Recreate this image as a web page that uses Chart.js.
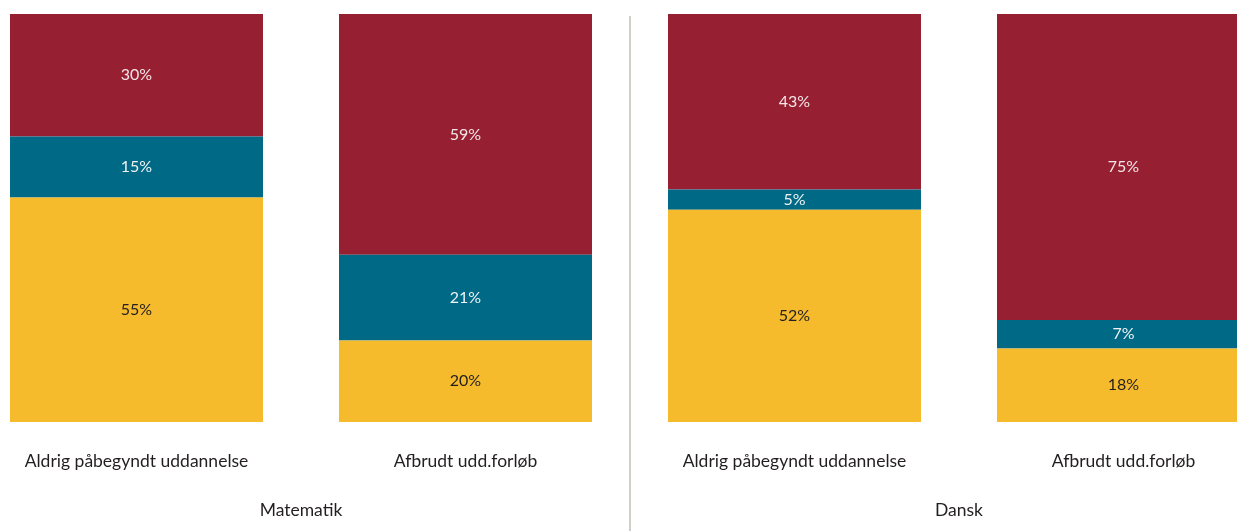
<!DOCTYPE html>
<html>
<head>
    <meta charset="utf-8">
    <title>Matematik og Dansk</title>
    <script src="https://cdn.jsdelivr.net/npm/chart.js"></script>
    <style>
        html, body { margin: 0; padding: 0; overflow: hidden; background: #fff; }
        #wrap { position: absolute; left: -28px; top: 0; width: 1316px; height: 531px; }
    </style>
</head>
<body>
    <div id="wrap"><canvas id="myChart"></canvas></div>
    <script>
        var categories = ['Aldrig påbegyndt uddannelse', 'Afbrudt udd.forløb', 'Aldrig påbegyndt uddannelse', 'Afbrudt udd.forløb'];
        var groups = ['Matematik', 'Dansk'];
        var yellowValues = [55, 20, 52, 18];
        var tealValues = [15, 21, 5, 7];
        var redValues = [30, 59, 43, 75];

        var FONT = 'Lato, "Open Sans", sans-serif';

        // values written inside each bar segment
        var segmentLabels = {
            id: 'segmentLabels',
            afterDatasetsDraw: function(chart) {
                var ctx = chart.ctx;
                ctx.save();
                ctx.font = '16px ' + FONT;
                ctx.textAlign = 'center';
                ctx.textBaseline = 'middle';
                chart.data.datasets.forEach(function(ds, i) {
                    chart.getDatasetMeta(i).data.forEach(function(bar, j) {
                        var mid = (bar.y + bar.base) / 2;
                        ctx.fillStyle = ds.labelColor;
                        ctx.fillText(ds.data[j] + '%', bar.x, mid);
                    });
                });
                ctx.restore();
            }
        };

        // grey line between the two subjects
        var divider = {
            id: 'divider',
            afterDraw: function(chart) {
                var x = chart.scales.x;
                var mid = (x.getPixelForValue(1) + x.getPixelForValue(2)) / 2;
                var ctx = chart.ctx;
                ctx.save();
                ctx.strokeStyle = '#cfcfc8';
                ctx.lineWidth = 2;
                ctx.beginPath();
                ctx.moveTo(mid, 16);
                ctx.lineTo(mid, chart.height);
                ctx.stroke();
                ctx.restore();
            }
        };

        var ctx = document.getElementById('myChart').getContext('2d');
        var myChart = new Chart(ctx, {
            type: 'bar',
            data: {
                labels: categories,
                datasets: [
                    { label: 'Gul', data: yellowValues, backgroundColor: '#f5bb2d', labelColor: '#231f20' },
                    { label: 'Blå', data: tealValues, backgroundColor: '#006985', labelColor: '#eef2f4' },
                    { label: 'Rød', data: redValues, backgroundColor: '#971f32', labelColor: '#f3e6e8' }
                ]
            },
            options: {
                responsive: true,
                maintainAspectRatio: false,
                animation: false,
                categoryPercentage: 1,
                barPercentage: 0.769,
                layout: { padding: { top: 14, bottom: 10 } },
                plugins: {
                    legend: { display: false },
                    tooltip: { enabled: false }
                },
                scales: {
                    x: {
                        stacked: true,
                        grid: { display: false, drawTicks: false },
                        border: { display: false },
                        ticks: { padding: 28.5, color: '#231f20', font: { family: FONT, size: 17.5 } }
                    },
                    x2: {
                        type: 'category',
                        position: 'bottom',
                        labels: groups,
                        grid: { display: false, drawTicks: false },
                        border: { display: false },
                        ticks: { padding: 0, color: '#231f20', font: { family: FONT, size: 17.5 } }
                    },
                    y: {
                        stacked: true,
                        display: false,
                        min: 0,
                        max: 100
                    }
                }
            },
            plugins: [segmentLabels, divider]
        });
    </script>
</body>
</html>
